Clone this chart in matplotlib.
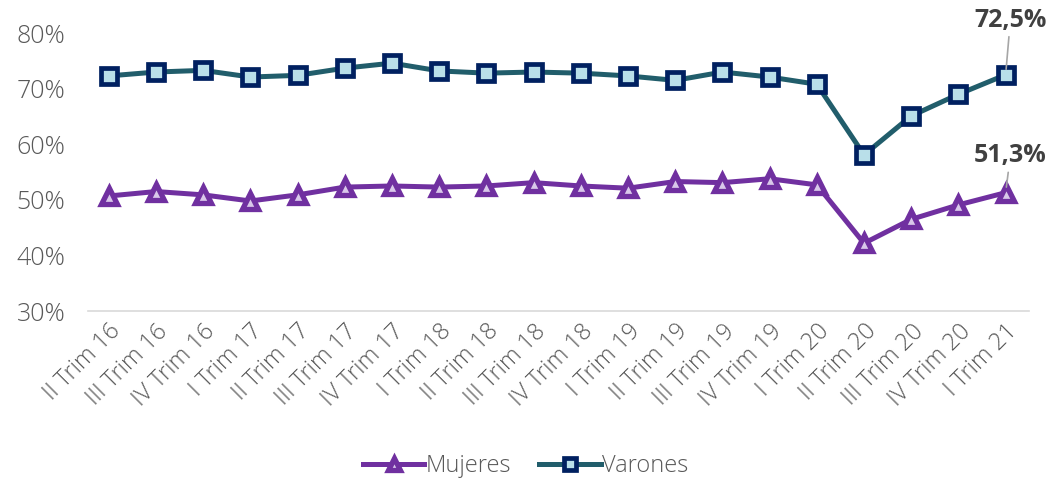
import matplotlib
matplotlib.use("Agg")
import matplotlib.pyplot as plt

plt.rcParams['font.family'] = ['Open Sans', 'DejaVu Sans']

trimestres = ["II Trim 16", "III Trim 16", "IV Trim 16", "I Trim 17", "II Trim 17",
              "III Trim 17", "IV Trim 17", "I Trim 18", "II Trim 18", "III Trim 18",
              "IV Trim 18", "I Trim 19", "II Trim 19", "III Trim 19", "IV Trim 19",
              "I Trim 20", "II Trim 20", "III Trim 20", "IV Trim 20", "I Trim 21"]
mujeres = [50.7, 51.5, 50.9, 49.8, 50.9, 52.3, 52.5, 52.3, 52.5, 53.1,
           52.5, 52.1, 53.3, 53.1, 53.8, 52.7, 42.2, 46.5, 49.1, 51.3]
varones = [72.3, 73.0, 73.3, 72.1, 72.4, 73.7, 74.6, 73.2, 72.8, 73.0,
           72.8, 72.3, 71.5, 73.0, 72.1, 70.8, 58.1, 65.1, 69.0, 72.5]
yticks = [30, 40, 50, 60, 70, 80]

fig = plt.figure(figsize=(10.51, 4.8), dpi=100)
ax = fig.add_axes([0.0833, 0.352, 0.896, 0.579])

x = list(range(len(trimestres)))
ax.plot(x, mujeres, color="#7030a0", lw=3.6, marker="^", markersize=11,
        markerfacecolor="#d9c8ea", markeredgecolor="#7030a0", markeredgewidth=3.8,
        label="Mujeres", zorder=3)
ax.plot(x, varones, color="#215d6b", lw=3.6, marker="s", markersize=11,
        markerfacecolor="#b9dfe9", markeredgecolor="#002060", markeredgewidth=3.4,
        label="Varones", zorder=3)

ax.set_xlim(-0.45, 19.5)
ax.set_ylim(30, 80)
ax.set_yticks(yticks)
ax.set_yticklabels([f"{v}%" for v in yticks], fontsize=18, fontweight="light")
ax.set_xticks(x)
ax.set_xticklabels(trimestres, rotation=45, ha="right", rotation_mode="anchor",
                   fontsize=17, fontweight="light")

for s in ["top", "right", "left"]:
    ax.spines[s].set_visible(False)
ax.spines["bottom"].set_color("#d9d9d9")
ax.spines["bottom"].set_linewidth(1.2)
ax.tick_params(axis="both", length=0, colors="#595959")
ax.tick_params(axis="y", pad=16)
ax.tick_params(axis="x", pad=6)

# value labels on the last quarter
last = len(x) - 1
for vals, dy in [(varones, 7.6), (mujeres, 4.4)]:
    v = vals[last]
    ax.annotate(f"{v:.1f}%".replace(".", ","), xy=(last, v), xytext=(last + 0.1, v + dy),
                ha="center", va="bottom", fontsize=18, fontweight="bold", color="#404040",
                arrowprops=dict(arrowstyle="-", color="#a6a6a6", lw=1.2,
                                shrinkA=1, shrinkB=4),
                annotation_clip=False)

leg = fig.legend(loc="lower center", bbox_to_anchor=(0.5, -0.04), ncol=2, frameon=False,
                 prop={"size": 17, "weight": "light"}, handlelength=2.6,
                 columnspacing=1.2, handletextpad=0.05, markerscale=0.85)
for t in leg.get_texts():
    t.set_color("#595959")

fig.savefig("out.png", dpi=100)
